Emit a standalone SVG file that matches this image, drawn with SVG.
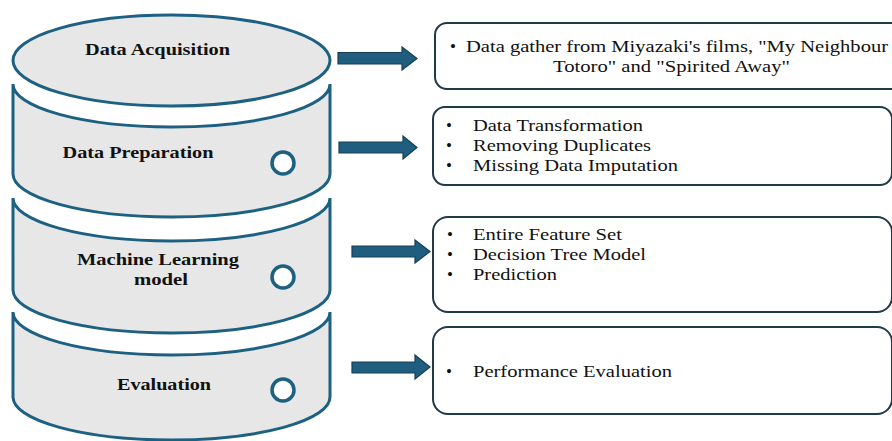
<svg xmlns="http://www.w3.org/2000/svg" width="892" height="441" viewBox="0 0 892 441">
<defs>
<style>
.seg{fill:#e7e7e7;stroke:#1d6182;stroke-width:3}
.dot{fill:#ffffff;stroke:#1d6182;stroke-width:3.5}
.lbl{font-family:"Liberation Serif","Times New Roman",serif;font-weight:bold;font-size:17px;fill:#111;text-anchor:middle}
.box{fill:#ffffff;stroke:#1f3a49;stroke-width:2}
.txt{font-family:"Liberation Serif","Times New Roman",serif;font-size:17px;fill:#111}
.arr{fill:#1f5e7e;stroke:#163f55;stroke-width:1.2}
</style>
</defs>
<rect width="892" height="441" fill="#ffffff"/>

<g id="stage-evaluation">
<path class="seg" d="M13,312 A158.5,43 0 0 0 330,312 L330,397 A158.5,43 0 0 1 13,397 Z"/>
<circle class="dot" cx="283" cy="390" r="11"/>
<text class="lbl" x="164" y="390" textLength="94" lengthAdjust="spacingAndGlyphs">Evaluation</text>
</g>

<g id="stage-ml">
<path class="seg" d="M13,198 A158.5,43 0 0 0 330,198 L330,290 A158.5,43 0 0 1 13,290 Z"/>
<circle class="dot" cx="283" cy="277" r="11"/>
<text class="lbl" x="158" y="265" textLength="162" lengthAdjust="spacingAndGlyphs">Machine Learning</text>
<text class="lbl" x="161" y="285" textLength="54" lengthAdjust="spacingAndGlyphs">model</text>
</g>

<g id="stage-preparation">
<path class="seg" d="M13,84 A158.5,43 0 0 0 330,84 L330,174 A158.5,43 0 0 1 13,174 Z"/>
<circle class="dot" cx="283" cy="163" r="11"/>
<text class="lbl" x="138" y="158" textLength="151" lengthAdjust="spacingAndGlyphs">Data Preparation</text>
</g>

<g id="stage-acquisition">
<ellipse class="seg" cx="171.5" cy="60.5" rx="158.5" ry="45.5"/>
<text class="lbl" x="157.5" y="55" textLength="145" lengthAdjust="spacingAndGlyphs">Data Acquisition</text>
</g>

<g id="connectors">
<path class="arr" d="M338,52.5 L402,52.5 L402,47 L417,58.5 L402,70 L402,64 L338,64 Z"/>
<path class="arr" d="M339,142 L403,142 L403,136 L417,147.5 L403,159 L403,153 L339,153 Z"/>
<path class="arr" d="M352,246 L415,246 L415,240 L430,251.5 L415,263 L415,257 L352,257 Z"/>
<path class="arr" d="M352,362 L415,362 L415,355 L430,367 L415,379 L415,373 L352,373 Z"/>
</g>

<g id="box-acquisition">
<rect class="box" x="435" y="23" width="480" height="66" rx="12"/>
<text class="txt" x="450" y="52">•</text>
<text class="txt" x="466" y="52" textLength="422" lengthAdjust="spacingAndGlyphs">Data gather from Miyazaki's films, "My Neighbour</text>
<text class="txt" x="553" y="72" textLength="237" lengthAdjust="spacingAndGlyphs">Totoro" and "Spirited Away"</text>
</g>

<g id="box-preparation">
<rect class="box" x="433" y="107" width="459" height="78" rx="12"/>
<text class="txt" x="446" y="131">•</text>
<text class="txt" x="446" y="151">•</text>
<text class="txt" x="446" y="171">•</text>
<text class="txt" x="473" y="131" textLength="170" lengthAdjust="spacingAndGlyphs">Data Transformation</text>
<text class="txt" x="473" y="151" textLength="178" lengthAdjust="spacingAndGlyphs">Removing Duplicates</text>
<text class="txt" x="473" y="171" textLength="205" lengthAdjust="spacingAndGlyphs">Missing Data Imputation</text>
</g>

<g id="box-ml">
<rect class="box" x="433" y="217" width="459" height="95" rx="15"/>
<text class="txt" x="447" y="240">•</text>
<text class="txt" x="447" y="260">•</text>
<text class="txt" x="447" y="280">•</text>
<text class="txt" x="473" y="240" textLength="149" lengthAdjust="spacingAndGlyphs">Entire Feature Set</text>
<text class="txt" x="473" y="260" textLength="173" lengthAdjust="spacingAndGlyphs">Decision Tree Model</text>
<text class="txt" x="473" y="280" textLength="84" lengthAdjust="spacingAndGlyphs">Prediction</text>
</g>

<g id="box-evaluation">
<rect class="box" x="433" y="327" width="459" height="87" rx="15"/>
<text class="txt" x="446" y="377">•</text>
<text class="txt" x="473" y="377" textLength="199" lengthAdjust="spacingAndGlyphs">Performance Evaluation</text>
</g>
</svg>
